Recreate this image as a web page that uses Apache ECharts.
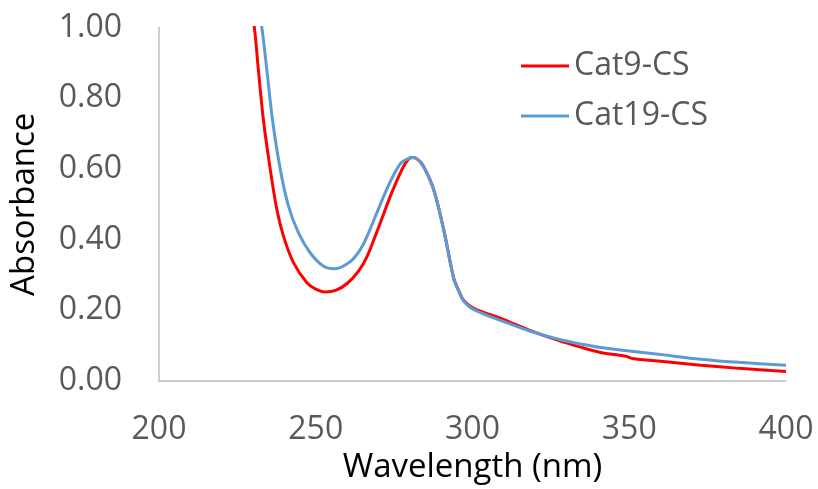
<!DOCTYPE html>
<html>
<head>
<meta charset="utf-8">
<script src="https://cdn.jsdelivr.net/npm/echarts@6/dist/echarts.min.js"></script>
<style>
  html, body { margin: 0; padding: 0; background: #ffffff; }
  #chart { width: 818px; height: 489px; }
</style>
</head>
<body>
<div id="chart"></div>
<script>
// UV-Vis absorbance spectra
const seriesNames = ['Cat9-CS', 'Cat19-CS'];

const cat9Wavelength = [228.5, 230.4, 231.7, 233.3, 235.5, 237.6, 239.7, 242.9, 247.2, 250, 253, 256.5, 260, 263.7, 266.4, 270.6, 273.8, 277, 279, 280.7, 282.5, 284.4, 287.6, 290.8, 294, 295.9, 297.2, 300.4, 310, 318.5, 327.1, 334.5, 340.9, 349, 351, 360, 372.8, 385, 400];
const cat9Absorbance = [1.08, 1.00, 0.880, 0.739, 0.598, 0.485, 0.410, 0.335, 0.278, 0.260, 0.252, 0.257, 0.276, 0.312, 0.353, 0.448, 0.523, 0.589, 0.621, 0.632, 0.627, 0.607, 0.542, 0.429, 0.292, 0.250, 0.228, 0.206, 0.174, 0.143, 0.116, 0.096, 0.081, 0.070, 0.064, 0.056, 0.045, 0.036, 0.027];

const cat19Wavelength = [230.8, 232.8, 234.4, 236.2, 238.7, 241.3, 244.5, 248.2, 252.5, 256.2, 261, 264.2, 266.4, 270.6, 273.8, 277, 279, 280.7, 282.5, 284.4, 287.6, 290.8, 294, 295.9, 297.2, 300.4, 310, 318.5, 327.1, 334.5, 340.9, 350, 360, 372.8, 385, 400];
const cat19Absorbance = [1.10, 1.00, 0.880, 0.739, 0.598, 0.495, 0.419, 0.363, 0.325, 0.318, 0.338, 0.372, 0.410, 0.500, 0.565, 0.615, 0.627, 0.632, 0.627, 0.607, 0.542, 0.429, 0.290, 0.248, 0.226, 0.202, 0.168, 0.141, 0.119, 0.105, 0.095, 0.085, 0.075, 0.062, 0.053, 0.045];

const xTicks = [200, 250, 300, 350, 400];
const yTicks = [0, 0.2, 0.4, 0.6, 0.8, 1.0];

const toPairs = (xs, ys) => xs.map((x, i) => [x, ys[i]]);

const labelFont = '"Open Sans", "Liberation Sans", sans-serif';

const chart = echarts.init(document.getElementById('chart'), null, { renderer: 'canvas' });

chart.setOption({
  animation: false,
  backgroundColor: '#ffffff',
  grid: { left: 159, right: 32, top: 27.5, bottom: 107, containLabel: false },
  legend: {
    orient: 'vertical',
    left: 516,
    top: 45,
    icon: 'rect',
    itemWidth: 48,
    itemHeight: 3,
    itemGap: 18,
    data: seriesNames,
    textStyle: { fontFamily: labelFont, fontSize: 32, color: '#595959', padding: [0, 0, 0, 0] }
  },
  xAxis: {
    type: 'value',
    min: xTicks[0],
    max: xTicks[xTicks.length - 1],
    interval: xTicks[1] - xTicks[0],
    name: 'Wavelength (nm)',
    nameLocation: 'middle',
    nameGap: 68,
    nameTextStyle: { fontFamily: labelFont, fontSize: 33, color: '#000000' },
    axisLine: { show: true, onZero: false, lineStyle: { color: '#BFBFBF', width: 1.5 } },
    axisTick: { show: false },
    splitLine: { show: false },
    axisLabel: { fontFamily: labelFont, fontSize: 32, color: '#595959', margin: 33 }
  },
  yAxis: {
    type: 'value',
    min: yTicks[0],
    max: yTicks[yTicks.length - 1],
    interval: yTicks[1] - yTicks[0],
    name: 'Absorbance',
    nameLocation: 'middle',
    nameGap: 118,
    nameTextStyle: { fontFamily: labelFont, fontSize: 33, color: '#000000' },
    axisLine: { show: true, lineStyle: { color: '#BFBFBF', width: 1.5 } },
    axisTick: { show: false },
    splitLine: { show: false },
    axisLabel: {
      fontFamily: labelFont, fontSize: 32, color: '#595959', margin: 37,
      formatter: v => v.toFixed(2)
    }
  },
  series: [
    {
      name: seriesNames[0],
      type: 'line',
      data: toPairs(cat9Wavelength, cat9Absorbance),
      smooth: 0.3,
      symbol: 'none',
      clip: true,
      lineStyle: { color: '#FF0000', width: 3 },
      itemStyle: { color: '#FF0000' },
      z: 2
    },
    {
      name: seriesNames[1],
      type: 'line',
      data: toPairs(cat19Wavelength, cat19Absorbance),
      smooth: 0.3,
      symbol: 'none',
      clip: true,
      lineStyle: { color: '#5B9BD5', width: 3 },
      itemStyle: { color: '#5B9BD5' },
      z: 3
    }
  ]
});
</script>
</body>
</html>
